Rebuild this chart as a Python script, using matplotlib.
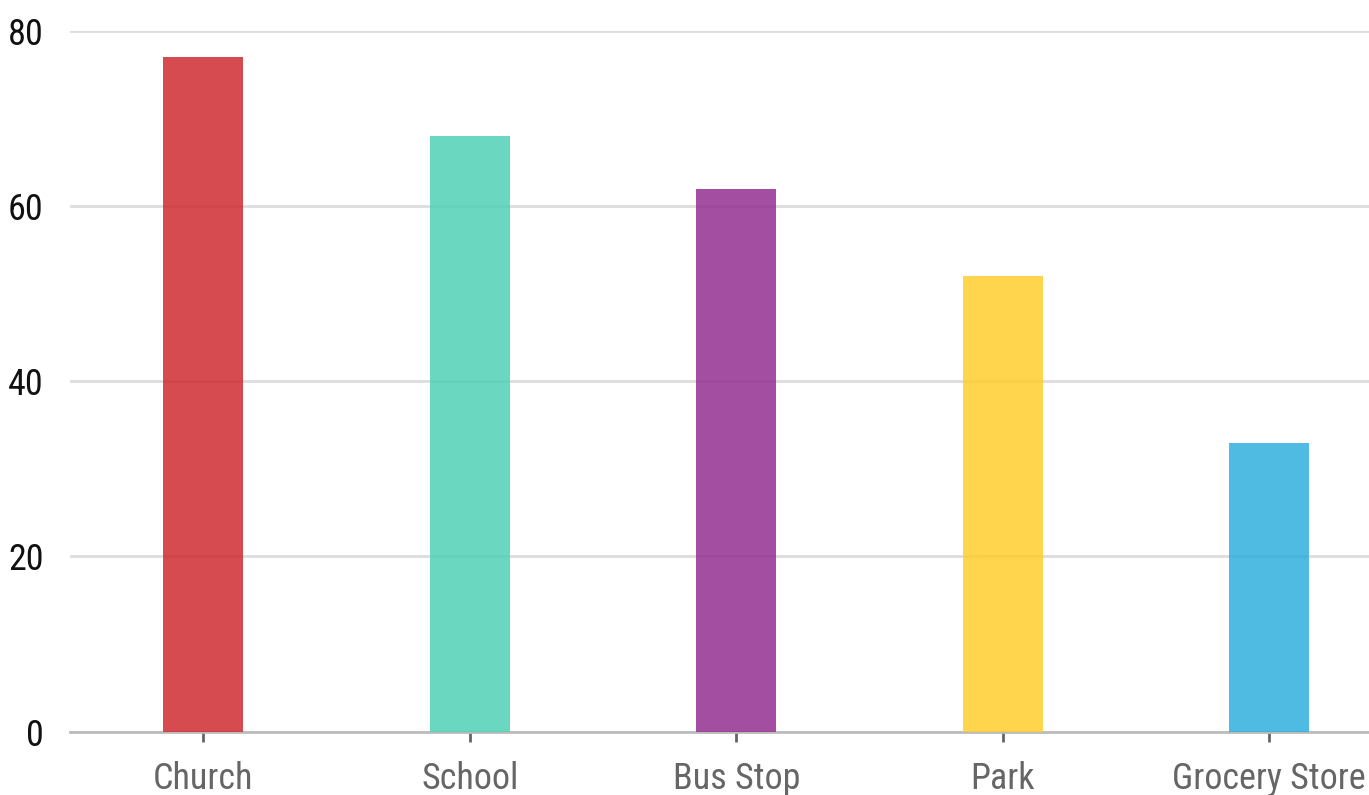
import matplotlib
matplotlib.use("Agg")
import matplotlib.pyplot as plt
from matplotlib import font_manager

categories = ["Church", "School", "Bus Stop", "Park", "Grocery Store"]
values = [77, 68, 62, 52, 33]
colors = ["#cf2b30", "#50d1b5", "#932f90", "#fece2d", "#30afdd"]
y_ticks = [0, 20, 40, 60, 80]

# Prefer a narrow sans face when one is installed
names = {f.name for f in font_manager.fontManager.ttflist}
family = "Roboto"
size = 23.5
for cand in ["Roboto Condensed", "Liberation Sans Narrow"]:
    if cand in names:
        family, size = cand, 26
        break
plt.rcParams["font.family"] = [family, "DejaVu Sans"]

W, H = 1369, 795
fig = plt.figure(figsize=(W / 100, H / 100), dpi=100)
ax = fig.add_axes([70 / W, (H - 731.5) / H, 1332.5 / W, 700.5 / H])

x = range(len(categories))
ax.bar(x, values, width=0.3, color=colors, alpha=0.85, zorder=3)

ax.set_xlim(-0.5, len(categories) - 0.5)
ax.set_ylim(0, 80)
ax.set_yticks(y_ticks)
ax.set_xticks(list(x))
ax.set_xticklabels(categories)

ax.grid(axis="y", color="#dddddd", linewidth=2, zorder=1)
ax.set_axisbelow(True)
for s in ["top", "right", "left"]:
    ax.spines[s].set_visible(False)
ax.spines["bottom"].set_color("#bbbbbb")
ax.spines["bottom"].set_linewidth(2)
ax.spines["bottom"].set_zorder(2)

ax.tick_params(axis="y", length=0, pad=19, labelsize=size, labelcolor="#111111")
ax.tick_params(axis="x", length=7, width=2, color="#666666", pad=14,
               labelsize=size, labelcolor="#666666")

fig.savefig("out.png", dpi=100)
